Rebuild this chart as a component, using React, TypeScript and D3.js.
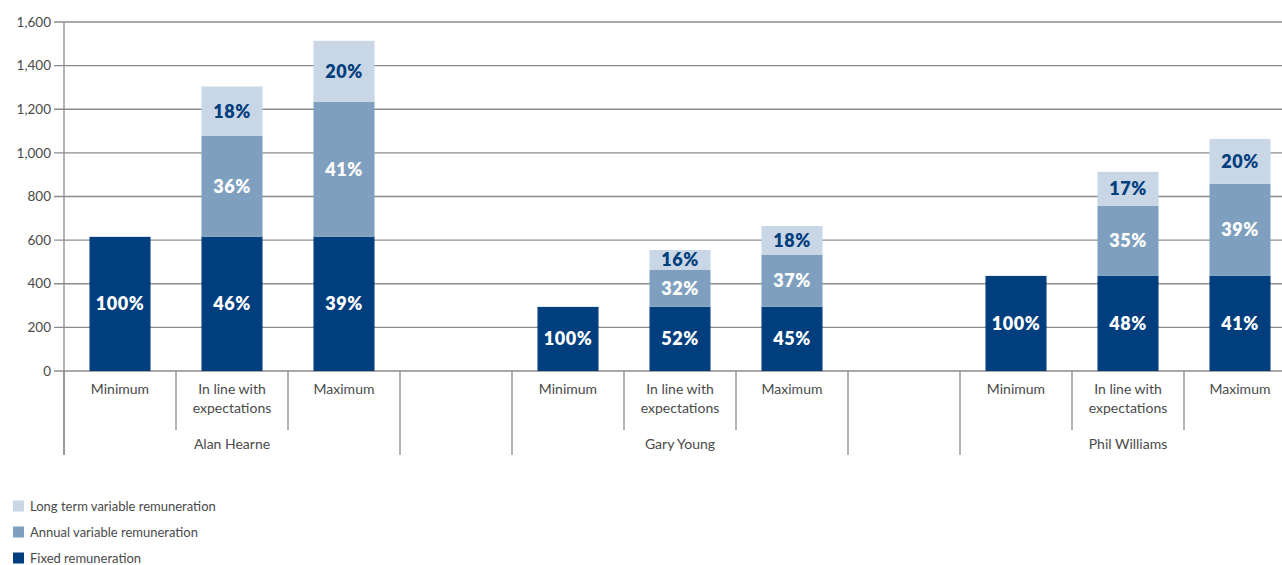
import React from "react";
import * as d3 from "d3";

const groups = ["Alan Hearne", "", "Gary Young", "", "Phil Williams"];
const scenarios = ["Minimum", "In line with\nexpectations", "Maximum"];
const barKeys = [
  "AH-Min", "AH-Inline", "AH-Max", "gap1",
  "GY-Min", "GY-Inline", "GY-Max", "gap2",
  "PW-Min", "PW-Inline", "PW-Max",
];
const fixedValues = [615, 615, 615, null, 294, 294, 294, null, 436, 436, 436];
const annualValues = [0, 463, 619, null, 0, 169, 238, null, 0, 321, 422];
const longTermValues = [0, 226, 280, null, 0, 92, 133, null, 0, 156, 206];
const fixedLabels = ["100%", "46%", "39%", "", "100%", "52%", "45%", "", "100%", "48%", "41%"];
const annualLabels = ["", "36%", "41%", "", "", "32%", "37%", "", "", "35%", "39%"];
const longTermLabels = ["", "18%", "20%", "", "", "16%", "18%", "", "", "17%", "20%"];
const yTicks = [0, 200, 400, 600, 800, 1000, 1200, 1400, 1600];
const seriesNames = ["Long term variable remuneration", "Annual variable remuneration", "Fixed remuneration"];
const seriesColors = ["#c9d6e5", "#7f9fbf", "#003e7e"];

const W = 1282;
const H = 565;
const left = 64;
const slotW = 112;
const top = 22;
const base = 371;
const FONT = "Lato, 'Open Sans', sans-serif";
const textColor = "#4a4a4a";
const gridColor = "#8c8c8c";

// group spans: [first slot index, slot count]
const groupSpans = [[0, 3], [3, 1], [4, 3], [7, 1], [8, 3]];

export default function App() {
  const x = d3.scaleBand<string>().domain(barKeys).range([left, left + slotW * barKeys.length]).paddingInner(0.455).paddingOuter(0.2275);
  const y = d3.scaleLinear().domain([0, 1600]).range([base, top]);
  const bw = x.bandwidth();

  const segments: any[] = [];
  barKeys.forEach((k, i) => {
    if (fixedValues[i] == null) return;
    const f = fixedValues[i] as number;
    const a = annualValues[i] as number;
    const l = longTermValues[i] as number;
    const stacks = [
      { y0: 0, y1: f, color: seriesColors[2], label: fixedLabels[i], lc: "#ffffff" },
      { y0: f, y1: f + a, color: seriesColors[1], label: annualLabels[i], lc: "#ffffff" },
      { y0: f + a, y1: f + a + l, color: seriesColors[0], label: longTermLabels[i], lc: "#003e7e" },
    ];
    stacks.forEach((s, j) => {
      if (s.y1 > s.y0) segments.push({ key: k + j, x: x(k)!, ...s });
    });
  });

  const slotEdge = (i: number) => left + slotW * i;
  const groupStarts = [0, 3, 4, 7, 8, 11];
  const shortLines = [1, 2, 5, 6, 9, 10];

  return (
    <svg width={W} height={H} style={{ position: "absolute", left: 0, top: 0, background: "#fff" }}>
      {yTicks.map((t) => (
        <g key={t}>
          <line x1={54} x2={W} y1={y(t)} y2={y(t)} stroke={gridColor} strokeWidth={1.3} />
          <text x={51} y={y(t)} dy="0.35em" textAnchor="end" fontFamily={FONT} fontSize={13.5} fontWeight={400} fill={textColor}>
            {d3.format(",")(t)}
          </text>
        </g>
      ))}
      <line x1={left} x2={left} y1={top} y2={455} stroke={gridColor} strokeWidth={1.3} />
      {segments.map((s) => (
        <rect key={s.key} x={s.x} width={bw} y={y(s.y1)} height={y(s.y0) - y(s.y1)} fill={s.color} />
      ))}
      {segments.map((s) =>
        s.label ? (
          <text key={"t" + s.key} x={s.x + bw / 2} y={(y(s.y0) + y(s.y1)) / 2} dy="0.36em" textAnchor="middle"
            fontFamily={FONT} fontWeight={800} fontSize={18} fill={s.lc} letterSpacing={0.5}>
            {s.label}
          </text>
        ) : null
      )}
      {groupStarts.map((i) => (
        <line key={"g" + i} x1={slotEdge(i)} x2={slotEdge(i)} y1={base} y2={455} stroke={gridColor} strokeWidth={1.3} />
      ))}
      {shortLines.map((i) => (
        <line key={"s" + i} x1={slotEdge(i)} x2={slotEdge(i)} y1={base} y2={430} stroke={gridColor} strokeWidth={1.3} />
      ))}
      {barKeys.map((k, i) => {
        if (fixedValues[i] == null) return null;
        const lines = scenarios[i % 4].split("\n");
        return (
          <text key={"c" + k} textAnchor="middle" fontFamily={FONT} fontSize={14} fontWeight={400} fill={textColor}>
            {lines.map((ln, j) => (
              <tspan key={j} x={x(k)! + bw / 2} y={394 + j * 19}>{ln}</tspan>
            ))}
          </text>
        );
      })}
      {groups.map((g, gi) =>
        g ? (
          <text key={"gl" + gi} x={slotEdge(groupSpans[gi][0]) + (groupSpans[gi][1] * slotW) / 2} y={449}
            textAnchor="middle" fontFamily={FONT} fontSize={14} fontWeight={400} fill={textColor}>
            {g}
          </text>
        ) : null
      )}
      {seriesNames.map((n, i) => (
        <g key={n} transform={`translate(13, ${506 + i * 26})`}>
          <rect x={0} y={-5.5} width={11} height={11} fill={seriesColors[i]} />
          <text x={17} y={0} dy="0.35em" fontFamily={FONT} fontSize={13} fontWeight={400} fill={textColor}>{n}</text>
        </g>
      ))}
    </svg>
  );
}
